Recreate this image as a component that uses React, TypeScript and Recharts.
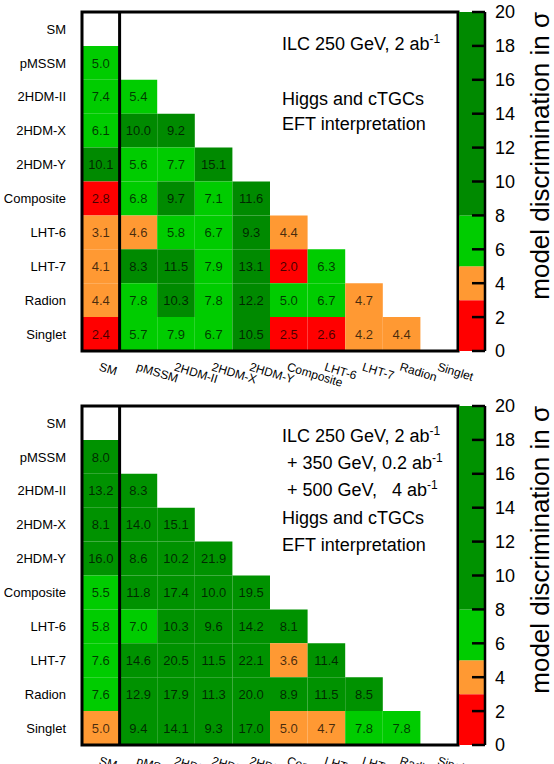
import React from 'react';
import { ComposedChart, BarChart, Bar, Scatter, XAxis, YAxis, ReferenceArea, ReferenceLine } from 'recharts';

// Models compared pairwise (rows and columns share the same order)
const models = ['SM', 'pMSSM', '2HDM-II', '2HDM-X', '2HDM-Y', 'Composite', 'LHT-6', 'LHT-7', 'Radion', 'Singlet'];

// Model discrimination in sigma, ILC 250 GeV, 2 ab^-1 (row i holds columns 0..i-1)
const discrim250: number[][] = [
  [],
  [5.0],
  [7.4, 5.4],
  [6.1, 10.0, 9.2],
  [10.1, 5.6, 7.7, 15.1],
  [2.8, 6.8, 9.7, 7.1, 11.6],
  [3.1, 4.6, 5.8, 6.7, 9.3, 4.4],
  [4.1, 8.3, 11.5, 7.9, 13.1, 2.0, 6.3],
  [4.4, 7.8, 10.3, 7.8, 12.2, 5.0, 6.7, 4.7],
  [2.4, 5.7, 7.9, 6.7, 10.5, 2.5, 2.6, 4.2, 4.4],
];

// Model discrimination in sigma, full ILC programme (250 + 350 + 500 GeV)
const discrimFull: number[][] = [
  [],
  [8.0],
  [13.2, 8.3],
  [8.1, 14.0, 15.1],
  [16.0, 8.6, 10.2, 21.9],
  [5.5, 11.8, 17.4, 10.0, 19.5],
  [5.8, 7.0, 10.3, 9.6, 14.2, 8.1],
  [7.6, 14.6, 20.5, 11.5, 22.1, 3.6, 11.4],
  [7.6, 12.9, 17.9, 11.3, 20.0, 8.9, 11.5, 8.5],
  [4.98, 9.4, 14.1, 9.3, 17.0, 4.98, 4.7, 7.8, 7.8],
];

// Colour scale: bin edges in sigma and the colour of each bin
const binEdges = [0, 3, 5, 8, 20];
const binColorsTop = ['#ff0000', '#ff9933', '#00cc00', '#008a00'];
const binColorsBottom = ['#ff0000', '#ff9933', '#00cc00', '#009200'];
const colorTicks = [0, 2, 4, 6, 8, 10, 12, 14, 16, 18, 20];

const FONT = '"Liberation Sans", Arial, Helvetica, sans-serif';
const W = 554;
const H = 390;
const centers = models.map((_, i) => i + 0.5);

function binColor(v: number, colors: string[]): string {
  for (let i = binEdges.length - 2; i >= 0; i--) {
    if (v >= binEdges[i]) return colors[i];
  }
  return colors[0];
}

const XTick = (props: any) => {
  const { x, y, payload } = props;
  const name = models[Math.floor(payload.value)];
  return (
    <text
      x={x}
      y={y}
      dy="0.72em"
      textAnchor="start"
      transform={`rotate(17 ${x} ${y})`}
      fontSize={12}
      fontFamily={FONT}
      fill="#000"
    >
      {name}
    </text>
  );
};

const YTick = (props: any) => {
  const { x, y, payload } = props;
  const name = models[Math.floor(payload.value)];
  return (
    <text x={x} y={y} dy="0.36em" textAnchor="end" fontSize={13} fontFamily={FONT} fill="#000">
      {name}
    </text>
  );
};

const CellValue = (props: any) => {
  const { cx, cy, payload } = props;
  if (cx == null || cy == null) return null;
  return (
    <text
      x={cx}
      y={cy}
      dy="0.36em"
      textAnchor="middle"
      fontSize={13}
      fontFamily={FONT}
      fill="#000"
      fillOpacity={0.72}
    >
      {payload.v.toFixed(1)}
    </text>
  );
};

function Heatmap({ values, colors }: { values: number[][]; colors: string[] }) {
  const cells: { r: number; c: number; v: number; x: number; y: number }[] = [];
  values.forEach((row, r) => row.forEach((v, c) => cells.push({ r, c, v, x: c + 0.5, y: r + 0.5 })));
  return (
    <ComposedChart width={W} height={H} data={cells} margin={{ top: 12, right: 96, bottom: 12, left: 10 }}>
      <XAxis
        type="number"
        dataKey="x"
        domain={[0, models.length]}
        ticks={centers}
        interval={0}
        height={27}
        axisLine={false}
        tickLine={false}
        tickSize={0}
        tickMargin={11}
        tick={<XTick />}
        allowDataOverflow
      />
      <YAxis
        type="number"
        dataKey="y"
        domain={[0, models.length]}
        reversed
        ticks={centers}
        interval={0}
        width={72}
        axisLine={false}
        tickLine={false}
        tickSize={0}
        tickMargin={16}
        tick={<YTick />}
        allowDataOverflow
      />
      {cells.map(({ r, c, v }) => (
        <ReferenceArea
          key={`${r}-${c}`}
          x1={c}
          x2={c + 1}
          y1={r}
          y2={r + 1}
          fill={binColor(v, colors)}
          fillOpacity={1}
          stroke="none"
          ifOverflow="visible"
        />
      ))}
      <ReferenceArea
        x1={0}
        x2={models.length}
        y1={0}
        y2={models.length}
        fill="none"
        fillOpacity={0}
        stroke="#000"
        strokeWidth={3}
        ifOverflow="visible"
      />
      <ReferenceLine x={1} stroke="#000" strokeWidth={3} ifOverflow="visible" />
      <Scatter data={cells} dataKey="y" shape={<CellValue />} isAnimationActive={false} />
    </ComposedChart>
  );
}

const ColorTick = (props: any) => {
  const { x, y, payload } = props;
  // x is the label position: axis line + tickMargin (10px)
  return (
    <g>
      <line x1={x - 23} x2={x - 10} y1={y} y2={y} stroke="#000" strokeWidth={2.5} />
      <text x={x} y={y} dy="0.36em" textAnchor="start" fontSize={18} fontFamily={FONT} fill="#000">
        {payload.value}
      </text>
    </g>
  );
};

function ColorBar({ colors }: { colors: string[] }) {
  const row: Record<string, number | string> = { name: 'scale' };
  colors.forEach((_, i) => {
    row[`b${i}`] = binEdges[i + 1] - binEdges[i];
  });
  return (
    <BarChart
      width={W}
      height={H}
      data={[row]}
      barCategoryGap={0}
      barGap={0}
      margin={{ top: 12, right: 0, bottom: 39, left: 459 }}
    >
      <XAxis dataKey="name" hide />
      <YAxis
        type="number"
        orientation="right"
        domain={[0, 20]}
        ticks={colorTicks}
        interval={0}
        width={69}
        axisLine={{ stroke: '#000', strokeWidth: 2.5 }}
        tickLine={false}
        tickSize={0}
        tickMargin={10}
        tick={<ColorTick />}
        allowDataOverflow
      />
      {colors.map((col, i) => (
        <Bar key={`b${i}`} dataKey={`b${i}`} stackId="scale" fill={col} isAnimationActive={false} />
      ))}
    </BarChart>
  );
}

const Sup = ({ children }: { children: React.ReactNode }) => (
  <tspan dy={-7} fontSize={12}>
    {children}
  </tspan>
);

export default function App() {
  const off = 394;
  return (
    <div
      style={{
        position: 'absolute',
        left: 0,
        top: 0,
        width: W,
        height: 764,
        background: '#fff',
        overflow: 'hidden',
        fontFamily: FONT,
      }}
    >
      <div style={{ position: 'absolute', left: 0, top: 0 }}>
        <Heatmap values={discrim250} colors={binColorsTop} />
      </div>
      <div style={{ position: 'absolute', left: 0, top: 0 }}>
        <ColorBar colors={binColorsTop} />
      </div>
      <div style={{ position: 'absolute', left: 0, top: off }}>
        <Heatmap values={discrimFull} colors={binColorsBottom} />
      </div>
      <div style={{ position: 'absolute', left: 0, top: off }}>
        <ColorBar colors={binColorsBottom} />
      </div>
      <svg
        width={W}
        height={764}
        style={{ position: 'absolute', left: 0, top: 0, pointerEvents: 'none' }}
        fontFamily={FONT}
        fill="#000"
      >
        {/* upper panel annotations */}
        <text x={282} y={50} fontSize={18}>
          ILC 250 GeV, 2 ab<Sup>-1</Sup>
        </text>
        <text x={282} y={105} fontSize={18}>
          Higgs and cTGCs
        </text>
        <text x={282} y={130} fontSize={18}>
          EFT interpretation
        </text>
        <text transform="translate(549 12) rotate(-90)" textAnchor="end" fontSize={26}>
          model discrimination in σ
        </text>

        {/* lower panel annotations */}
        <text x={282} y={442} fontSize={18}>
          ILC 250 GeV, 2 ab<Sup>-1</Sup>
        </text>
        <text x={287} y={469} fontSize={18}>
          + 350 GeV, 0.2 ab<Sup>-1</Sup>
        </text>
        <text x={287} y={496} fontSize={18} style={{ whiteSpace: 'pre' }}>
          {'+ 500 GeV,   4 ab'}
          <Sup>-1</Sup>
        </text>
        <text x={282} y={524} fontSize={18}>
          Higgs and cTGCs
        </text>
        <text x={282} y={551} fontSize={18}>
          EFT interpretation
        </text>
        <text transform={`translate(549 ${12 + off}) rotate(-90)`} textAnchor="end" fontSize={26}>
          model discrimination in σ
        </text>
      </svg>
    </div>
  );
}
